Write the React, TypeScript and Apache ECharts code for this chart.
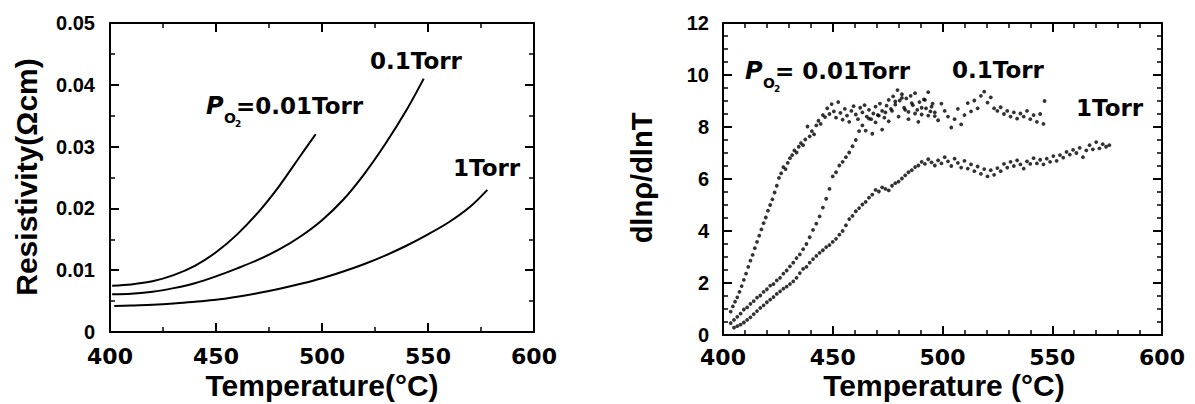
import React, { useEffect, useRef } from "react";
import * as echarts from "echarts";

// Resistivity vs temperature, three oxygen pressures
const rhoTemp001 = [401, 410, 420, 430, 440, 450, 460, 470, 480, 490, 497];
const rhoVal001 = [0.0075, 0.0077, 0.0082, 0.0092, 0.0107, 0.0129, 0.0158, 0.0194, 0.0237, 0.0286, 0.032];

const rhoTemp01 = [401, 410, 420, 430, 440, 450, 460, 470, 480, 490, 500, 510, 520, 530, 540, 548];
const rhoVal01 = [0.0061, 0.0062, 0.0065, 0.0071, 0.0079, 0.009, 0.0103, 0.0117, 0.0134, 0.0155, 0.0181, 0.0214, 0.0256, 0.0305, 0.036, 0.041];

const rhoTemp1 = [402, 410, 420, 430, 440, 450, 460, 470, 480, 490, 500, 510, 520, 530, 540, 550, 560, 570, 578];
const rhoVal1 = [0.0042, 0.0043, 0.0044, 0.0046, 0.0049, 0.0052, 0.0057, 0.0063, 0.007, 0.0078, 0.0087, 0.0098, 0.011, 0.0124, 0.014, 0.0158, 0.0178, 0.0203, 0.023];

// dln(rho)/dln(T) measured points
const dTemp001 = [
  403.5, 404.5, 405.5, 406.5, 407.5, 408.5, 409.5, 410.5, 411.5, 412.5, 413.5, 414.5, 415.5, 416.5, 417.5, 418.5,
  419.5, 420.5, 421.5, 422.5, 423.5, 424.5, 425.5, 426.5, 427.5, 428.5, 429.5, 430.5, 431.5, 432.5, 433.5, 434.5,
  435.5, 436.5, 437.5, 438.5, 439.5, 440.5, 441.5, 442.5, 443.5, 444.5, 445.5, 446.5, 447.5, 448.5, 449.5, 450.5,
  451.5, 452.5, 453.5, 454.5, 455.5, 456.5, 457.5, 458.5, 459.5, 460.5, 461.5, 462.5, 463.5, 464.5, 465.5, 466.5,
  467.5, 468.5, 469.5, 470.5, 471.5, 472.5, 473.5, 474.5, 475.5, 476.5, 477.5, 478.5, 479.5, 480.5, 481.5, 482.5,
  483.5, 484.5, 485.5, 486.5, 487.5, 488.5, 489.5, 490.5, 491.5, 492.5, 493.5, 494.5, 495.5, 496.5,
];
const dVal001 = [
  0.9, 1.1, 1.28, 1.45, 1.66, 1.88, 2.12, 2.36, 2.62, 2.86, 3.08, 3.34, 3.58, 3.82, 4.06, 4.3,
  4.52, 4.78, 5.0, 5.22, 5.48, 5.74, 6.04, 6.22, 6.46, 6.38, 6.62, 6.8, 6.92, 7.1, 7.02, 7.24,
  7.38, 7.3, 7.52, 8.02, 7.64, 7.84, 7.72, 8.06, 8.24, 8.12, 8.46, 8.38, 8.72, 8.5, 8.88, 8.6,
  8.36, 8.96, 8.54, 8.28, 8.7, 8.44, 8.2, 8.62, 8.8, 8.48, 8.3, 8.74, 8.56, 8.84, 8.4, 8.66,
  8.3, 8.52, 8.78, 8.46, 8.9, 8.62, 8.36, 8.82, 9.04, 8.7, 9.18, 8.86, 9.42, 9.02, 9.26, 8.74,
  9.1, 8.58, 9.2, 8.84, 9.3, 8.66, 8.96, 8.48, 9.06, 8.72, 9.34, 8.6, 8.9, 8.42,
];

const dTemp01 = [
  403.5, 405, 406.5, 408, 409.5, 411, 412.5, 414, 415.5, 417, 418.5, 420, 421.5, 423, 424.5, 426,
  427.5, 429, 430.5, 432, 433.5, 435, 436.5, 438, 439.5, 441, 442.5, 444, 445.5, 447, 448.5, 450,
  451.5, 453, 454.5, 456, 457.5, 459, 460.5, 462, 463.5, 465, 466.5, 468, 469.5, 471, 472.5, 474,
  475.5, 477, 478.5, 480, 481.5, 483, 484.5, 486, 487.5, 489, 490.5, 492, 493.5, 495, 496.5, 498,
  499.5, 501, 502.5, 504, 505.5, 507, 508.5, 510, 511.5, 513, 514.5, 516, 517.5, 519, 520.5, 522,
  523.5, 525, 526.5, 528, 529.5, 531, 532.5, 534, 535.5, 537, 538.5, 540, 541.5, 543, 544.5, 546, 546.5,
];
const dVal01 = [
  0.46, 0.58, 0.7, 0.82, 0.98, 1.06, 1.2, 1.3, 1.44, 1.52, 1.66, 1.76, 1.9, 1.96, 2.1, 2.2,
  2.36, 2.48, 2.64, 2.78, 2.96, 3.1, 3.3, 3.5, 3.76, 4.04, 4.28, 4.56, 4.9, 5.24, 5.62, 6.1,
  6.26, 6.52, 6.66, 6.84, 7.02, 7.26, 7.5, 7.84, 8.06, 7.86, 8.32, 7.74, 8.18, 8.44, 7.9, 8.56,
  8.22, 8.62, 8.98, 8.4, 9.12, 8.66, 8.3, 8.92, 8.52, 8.2, 8.74, 9.04, 8.44, 8.78, 8.56, 8.26,
  8.9, 8.62, 8.4, 7.98, 8.3, 8.7, 8.1, 8.46, 8.92, 8.6, 9.02, 8.72, 9.2, 9.36, 8.94, 9.14,
  8.72, 8.62, 8.76, 8.5, 8.62, 8.4, 8.56, 8.32, 8.52, 8.4, 8.62, 8.3, 8.46, 8.2, 8.5, 8.12, 9.0,
];

const dTemp1 = [
  405, 406.5, 408, 409.5, 411, 412.5, 414, 415.5, 417, 418.5, 420, 421.5, 423, 424.5, 426, 427.5,
  429, 430.5, 432, 433.5, 435, 436.5, 438, 439.5, 441, 442.5, 444, 445.5, 447, 448.5, 450, 451.5,
  453, 454.5, 456, 457.5, 459, 460.5, 462, 463.5, 465, 466.5, 468, 469.5, 471, 472.5, 474, 475.5,
  477, 478.5, 480, 481.5, 483, 484.5, 486, 487.5, 489, 490.5, 492, 493.5, 495, 496.5, 498, 499.5,
  501, 502.5, 504, 505.5, 507, 508.5, 510, 511.5, 513, 514.5, 516, 517.5, 519, 520.5, 522, 523.5,
  525, 526.5, 528, 529.5, 531, 532.5, 534, 535.5, 537, 538.5, 540, 541.5, 543, 544.5, 546, 547.5,
  549, 550.5, 552, 553.5, 555, 556.5, 558, 559.5, 561, 562.5, 564, 565.5, 567, 568.5, 570, 571.5,
  573, 574.5, 576,
];
const dVal1 = [
  0.28, 0.34, 0.4, 0.48, 0.58, 0.68, 0.8, 0.92, 1.04, 1.14, 1.26, 1.36, 1.46, 1.58, 1.68, 1.78,
  1.86, 1.96, 2.06, 2.2, 2.38, 2.54, 2.62, 2.78, 2.92, 3.04, 3.16, 3.26, 3.38, 3.46, 3.58, 3.7,
  3.86, 4.0, 4.22, 4.46, 4.58, 4.76, 4.88, 5.02, 5.12, 5.28, 5.4, 5.58, 5.52, 5.68, 5.62, 5.56,
  5.74, 5.84, 5.9, 6.02, 6.14, 6.26, 6.34, 6.46, 6.52, 6.66, 6.58, 6.76, 6.64, 6.52, 6.72, 6.6,
  6.84, 6.68, 6.5, 6.78, 6.62, 6.44, 6.7, 6.4, 6.56, 6.3, 6.48, 6.2, 6.38, 6.1, 6.34, 6.16,
  6.42, 6.3, 6.58, 6.44, 6.66, 6.5, 6.72, 6.56, 6.4, 6.68, 6.58, 6.8, 6.6, 6.74, 6.56, 6.78,
  6.66, 6.88, 6.7, 6.92, 6.82, 7.04, 6.94, 7.12, 7.0, 7.2, 6.84, 7.1, 7.3, 7.14, 7.42, 7.18,
  7.34, 7.24, 7.3,
];

const pair = (xs: number[], ys: number[]) => xs.map((x, i) => [x, ys[i]]);

const LABEL_FONT = "DejaVu Sans";
const TITLE_FONT = "Liberation Sans";

const axisLine = { show: true, onZero: false, lineStyle: { color: "#000", width: 2 } };
const majorTick = { show: true, inside: true, length: 9, lineStyle: { color: "#000", width: 2 } };
const minorTick = (n: number) => ({ show: true, splitNumber: n, length: 5, lineStyle: { color: "#000", width: 1.5 } });

function tempAxis(gridIndex: number, position: "top" | "bottom", minorSplit: number, margin: number) {
  return {
    type: "value",
    gridIndex,
    position,
    min: 400,
    max: 600,
    interval: 50,
    axisLine,
    axisTick: majorTick,
    minorTick: minorTick(minorSplit),
    splitLine: { show: false },
    axisLabel: {
      show: position === "bottom",
      color: "#000",
      fontFamily: LABEL_FONT,
      fontWeight: "bold",
      fontSize: 22,
      margin,
    },
  };
}

function valueAxis(
  gridIndex: number,
  position: "left" | "right",
  max: number,
  interval: number,
  minorSplit: number,
  label: any
) {
  return {
    type: "value",
    gridIndex,
    position,
    min: 0,
    max,
    interval,
    axisLine,
    axisTick: majorTick,
    minorTick: minorTick(minorSplit),
    splitLine: { show: false },
    axisLabel: { show: position === "left", color: "#000", fontWeight: "bold", ...label },
  };
}

// Italic P with the O2 subscript, followed by the pressure value
function oxygenLabel(x: number, y: number, rest: string) {
  return {
    type: "group",
    children: [
      {
        type: "text",
        x,
        y,
        style: {
          text: "P",
          font: `italic bold 24px "${LABEL_FONT}"`,
          fill: "#000",
          verticalAlign: "middle",
        },
      },
      {
        type: "text",
        x: x + 18,
        y: y + 12,
        style: { text: "O", font: `bold 14px "${LABEL_FONT}"`, fill: "#000", verticalAlign: "middle" },
      },
      {
        type: "text",
        x: x + 29,
        y: y + 18,
        style: { text: "2", font: `bold 9px "${LABEL_FONT}"`, fill: "#000", verticalAlign: "middle" },
      },
      {
        type: "text",
        x: x + 30,
        y,
        style: { text: rest, font: `bold 23px "${LABEL_FONT}"`, fill: "#000", verticalAlign: "middle" },
      },
    ],
  };
}

function plainText(x: number, y: number, text: string) {
  return {
    type: "text",
    x,
    y,
    style: {
      text,
      font: `bold 23px "${LABEL_FONT}"`,
      fill: "#000",
      align: "left",
      verticalAlign: "middle",
    },
  };
}

function centered(x: number, y: number, text: string, size: number, rotation = 0) {
  return {
    type: "text",
    x,
    y,
    rotation,
    style: {
      text,
      font: `bold ${size}px "${TITLE_FONT}"`,
      fill: "#000",
      align: "center",
      verticalAlign: "middle",
    },
  };
}

export default function App() {
  const ref = useRef<HTMLDivElement>(null);

  useEffect(() => {
    if (!ref.current) return;
    const chart = echarts.init(ref.current, undefined, { renderer: "svg" });
    const line = (xs: number[], ys: number[]) => ({
      type: "line",
      xAxisIndex: 0,
      yAxisIndex: 0,
      data: pair(xs, ys),
      smooth: 0.3,
      showSymbol: false,
      symbol: "none",
      lineStyle: { color: "#000", width: 2 },
    });
    const dots = (xs: number[], ys: number[]) => ({
      type: "scatter",
      xAxisIndex: 2,
      yAxisIndex: 2,
      data: pair(xs, ys),
      symbol: "circle",
      symbolSize: 3.8,
      itemStyle: { color: "#000" },
    });

    chart.setOption({
      animation: false,
      backgroundColor: "#fff",
      grid: [
        { left: 110, top: 23, width: 424, height: 309 },
        { left: 723, top: 23, width: 439, height: 312 },
      ],
      xAxis: [
        tempAxis(0, "bottom", 2, 13),
        tempAxis(0, "top", 2, 13),
        tempAxis(1, "bottom", 5, 11),
        tempAxis(1, "top", 5, 11),
      ],
      yAxis: [
        valueAxis(0, "left", 0.05, 0.01, 2, {
          fontFamily: TITLE_FONT,
          fontSize: 20,
          margin: 15,
          formatter: (v: number) => (v === 0 ? "0" : v.toFixed(2)),
        }),
        valueAxis(0, "right", 0.05, 0.01, 2, {}),
        valueAxis(1, "left", 12, 2, 4, { fontFamily: TITLE_FONT, fontSize: 20, margin: 14 }),
        valueAxis(1, "right", 12, 2, 4, {}),
      ],
      series: [
        line(rhoTemp001, rhoVal001),
        line(rhoTemp01, rhoVal01),
        line(rhoTemp1, rhoVal1),
        dots(dTemp001, dVal001),
        dots(dTemp01, dVal01),
        dots(dTemp1, dVal1),
      ],
      graphic: [
        centered(322, 385, "Temperature(°C)", 30),
        centered(26, 177, "Resistivity(Ωcm)", 30, Math.PI / 2),
        centered(944, 385, "Temperature (°C)", 30),
        centered(642, 178, "dlnρ/dlnT", 29, Math.PI / 2),
        oxygenLabel(206, 106, "=0.01Torr"),
        plainText(370, 61, "0.1Torr"),
        plainText(453, 168, "1Torr"),
        oxygenLabel(745, 71, "= 0.01Torr"),
        plainText(952, 70, "0.1Torr"),
        plainText(1076, 108, "1Torr"),
      ],
    });
    return () => chart.dispose();
  }, []);

  return (
    <div
      ref={ref}
      style={{ position: "fixed", left: 0, top: 0, width: 1195, height: 404, background: "#fff" }}
    />
  );
}
